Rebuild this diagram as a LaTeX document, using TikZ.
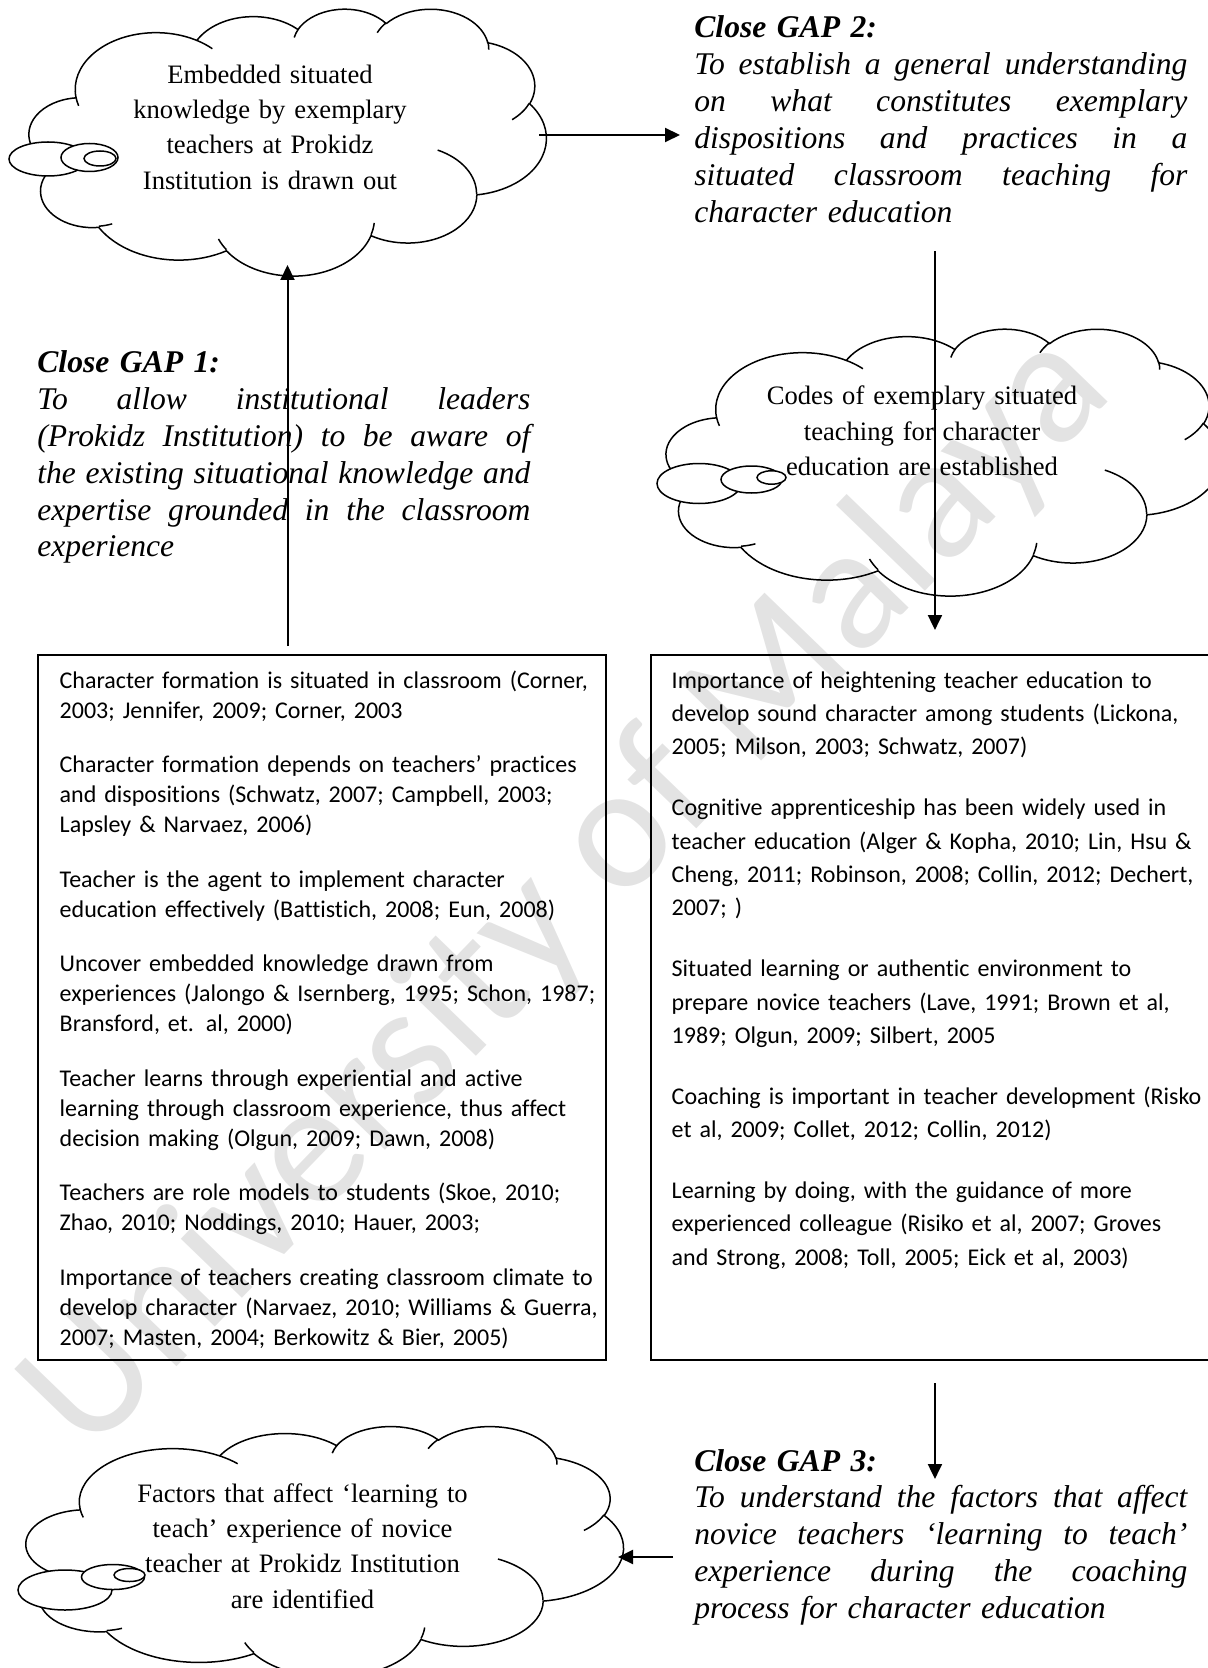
\documentclass[tikz,border=0pt]{standalone}
\usepackage{fontspec}
\setmainfont{Liberation Serif}
\newfontfamily\calibrifont[Ligatures=NoCommon]{Carlito}
\usetikzlibrary{arrows.meta}

% ---------------------------------------------------------------
% Office-style cloud outline built from elliptical arcs.
% Each arc: radii and visual start / sweep angle (degrees); the
% visual angles are turned into the parametric angles TikZ uses.
% Path space is 432 x 432 units, scaled to the cloud's box.
% ---------------------------------------------------------------
\newcommand\addarcto[5]{%
  \pgfmathsetmacro\cldA{atan2(#2*sin(#4),#3*cos(#4))}%
  \pgfmathsetmacro\cldB{atan2(#2*sin(#4+#5),#3*cos(#4+#5))}%
  \pgfmathsetmacro\cldD{\cldB-\cldA+360*(\cldB<\cldA)}%
  \xdef#1{#1 arc[x radius=#2,y radius=#3,start angle=\cldA,delta angle=\cldD]}}
\newcommand\addinner[6]{%
  \xdef\cldinner{\cldinner (#1,#2)}%
  \addarcto\cldinner{#3}{#4}{#5}{#6}}

% outer rim
\gdef\cldouter{(39,143.7)}
\addarcto\cldouter{67.53}{91.90}{-190.4875}{123.7805}
\addarcto\cldouter{53.33}{72.67}{-144.1024}{89.9452}
\addarcto\cldouter{43.65}{59.45}{-145.8079}{99.7230}
\addarcto\cldouter{48.57}{65.95}{-130.9861}{117.2417}
\addarcto\cldouter{53.33}{72.73}{-78.7089}{109.0269}
\addarcto\cldouter{67.75}{92.20}{-46.2673}{130.2690}
\addarcto\cldouter{57.85}{78.67}{0.6250}{114.0333}
\addarcto\cldouter{67.52}{92.15}{22.4516}{115.1726}
\addarcto\cldouter{77.20}{105.43}{66.2426}{75.7110}
\addarcto\cldouter{43.60}{59.18}{-274.9421}{146.7356}
\addarcto\cldouter{43.45}{59.45}{-246.8285}{152.5301}
\xdef\cldouter{\cldouter -- cycle}

% inner creases
\gdef\cldinner{}
\addinner{46.93}{261.77}{43.45}{59.45}{86.7420}{26.4295}
\addinner{69.28}{348.99}{43.60}{59.18}{73.6105}{11.4475}
\addinner{164.78}{390.90}{67.52}{92.15}{137.6242}{14.0811}
\addinner{288.27}{347.51}{67.52}{92.15}{6.4533}{15.9984}
\addinner{341.29}{229.54}{57.85}{78.67}{-70.2924}{70.9174}
\addinner{417.98}{153.54}{53.33}{72.73}{30.3180}{27.7515}
\addinner{383.24}{54.26}{48.57}{65.95}{-13.7443}{14.8589}
\addinner{290.78}{39.52}{48.57}{65.95}{-149.1815}{18.1954}
\addinner{221.41}{47.20}{43.65}{59.45}{-163.4943}{17.6864}
\addinner{140.00}{51.92}{67.53}{91.90}{-66.7070}{12.3194}
\addinner{41.27}{157.89}{67.53}{91.90}{157.6544}{11.8582}

% cloud whose visible outline spans (left, top, width, height), pixel units
\newcommand\drawcloud[4]{%
  \pgfmathsetmacro\cldw{#3/0.973}%
  \pgfmathsetmacro\cldh{#4/0.937}%
  \pgfmathsetmacro\cldx{#1-0.013*\cldw}%
  \pgfmathsetmacro\cldy{#2-0.025*\cldh}%
  \pgfmathsetmacro\cldsx{\cldw*0.5/432}%
  \pgfmathsetmacro\cldsy{-\cldh*0.5/432}%
  \begin{scope}[shift={(\cldx,\cldy)},x=\cldsx pt,y=\cldsy pt]
    \draw[cloudline] \cldouter;
    \draw[cloudline] \cldinner;
  \end{scope}}

% one fully justified line of a gap statement (words split by \hfill)
\newlength\gapwidth
\setlength\gapwidth{246.5pt}
\newcommand\jline[1]{\leavevmode\hbox to \gapwidth{#1}}

\begin{document}
\begin{tikzpicture}[
  x=0.5pt, y=-0.5pt,
  cloudline/.style={line width=0.75pt, line join=round},
  tail/.style={line width=0.75pt, fill=white},
  cloudbox/.style={inner sep=0pt, outer sep=0pt, anchor=north west},
  cloudtext/.style={anchor=base, inner sep=0pt, text width=250pt, align=center,
    font=\fontsize{13.3}{17.6}\selectfont},
  gaptext/.style={anchor=base west, inner sep=0pt, text width=\gapwidth, align=left,
    font=\fontsize{15.8}{18.4}\selectfont\itshape},
  frame/.style={draw, line width=1pt, inner sep=0pt, outer sep=0pt, anchor=north west},
  boxtext/.style={anchor=base west, inner sep=0pt, text width=275pt, align=left,
    font=\calibrifont\fontsize{12}{15}\selectfont},
  boxtextwide/.style={boxtext, font=\calibrifont\fontsize{12}{16.7}\selectfont},
  arr/.style={line width=1pt, -{Triangle[length=7.5pt,width=7pt]}},
  watermark/.style={inner sep=0pt, rotate=46, text=black!11,
    font=\calibrifont\fontsize{89}{89}\selectfont}
]
\useasboundingbox (0,0) rectangle (1207,1668);

% faint diagonal watermark behind everything
\node[watermark] (wm) at (568,893) {University of Malaya};

% ---------- top-left cloud ----------
\drawcloud{36}{15}{503}{250}
\draw[tail] (48,159) ellipse[x radius=39, y radius=17];
\draw[tail] (89.5,157.5) ellipse[x radius=28.5, y radius=14];
\draw[tail] (100,158.5) ellipse[x radius=16, y radius=7.5];
\node[cloudbox, minimum width=251.5pt, minimum height=125pt] (cloudA) at (36,15) {};
\node[cloudtext] (cloudAtext) at (270,83.5)
  {Embedded situated\\knowledge by exemplary\\teachers at Prokidz\\Institution is drawn out};

% ---------- right cloud ----------
\drawcloud{673.6}{335}{540}{250}
\draw[tail] (699,483.5) ellipse[x radius=42, y radius=20];
\draw[tail] (751.5,479.5) ellipse[x radius=30.5, y radius=13.5];
\draw[tail] (771.5,477.5) ellipse[x radius=14.5, y radius=6.7];
\node[cloudbox, minimum width=270pt, minimum height=125pt] (cloudB) at (673.6,335) {};
\node[cloudtext] (cloudBtext) at (922,405)
  {Codes of exemplary situated\\teaching for character\\education are established};

% ---------- bottom-left cloud ----------
\drawcloud{34}{1432}{581}{235}
\draw[tail] (65,1590) ellipse[x radius=47, y radius=20];
\draw[tail] (113,1577) ellipse[x radius=31.5, y radius=12.5];
\draw[tail] (129.5,1575) ellipse[x radius=15.5, y radius=6.5];
\node[cloudbox, minimum width=290.5pt, minimum height=117.5pt] (cloudC) at (34,1432) {};
\node[cloudtext] (cloudCtext) at (302.5,1502.5)
  {Factors that affect ‘learning to\\teach’ experience of novice\\teacher at Prokidz Institution\\are identified};

% ---------- gap statements ----------
\node[gaptext] (gap1) at (37,373) {\textbf{Close GAP 1:}\\
  \jline{To\hfill allow\hfill institutional\hfill leaders}\\
  \jline{(Prokidz\hfill Institution)\hfill to\hfill be\hfill aware\hfill of}\\
  \jline{the\hfill existing\hfill situational\hfill knowledge\hfill and}\\
  \jline{expertise\hfill grounded\hfill in\hfill the\hfill classroom}\\
  experience};

\node[gaptext, font=\fontsize{15.8}{18.5}\selectfont\itshape] (gap2) at (694,37.5) {\textbf{Close GAP 2:}\\
  \jline{To\hfill establish\hfill a\hfill general\hfill understanding}\\
  \jline{on\hfill what\hfill constitutes\hfill exemplary}\\
  \jline{dispositions\hfill and\hfill practices\hfill in\hfill a}\\
  \jline{situated\hfill classroom\hfill teaching\hfill for}\\
  character education};

\node[gaptext] (gap3) at (694,1471) {\textbf{Close GAP 3:}\\
  \jline{To\hfill understand\hfill the\hfill factors\hfill that\hfill affect}\\
  \jline{novice\hfill teachers\hfill ‘learning\hfill to\hfill teach’}\\
  \jline{experience\hfill during\hfill the\hfill coaching}\\
  process for character education};

% ---------- literature boxes ----------
\node[frame, minimum width=284pt, minimum height=352.5pt] (boxL) at (37.5,655) {};
\node[boxtext] (boxLtext) at (59.3,688) {%
  Character formation is situated in classroom (Corner,\\
  2003; Jennifer, 2009; Corner, 2003\\[12.25pt]
  Character formation depends on teachers’ practices\\
  and dispositions (Schwatz, 2007; Campbell, 2003;\\
  Lapsley \& Narvaez, 2006)\\[12.25pt]
  Teacher is the agent to implement character\\
  education effectively (Battistich, 2008; Eun, 2008)\\[12.25pt]
  Uncover embedded knowledge drawn from\\
  experiences (Jalongo \& Isernberg, 1995; Schon, 1987;\\
  Bransford, et. al, 2000)\\[12.25pt]
  Teacher learns through experiential and active\\
  learning through classroom experience, thus affect\\
  decision making (Olgun, 2009; Dawn, 2008)\\[12.25pt]
  Teachers are role models to students (Skoe, 2010;\\
  Zhao, 2010; Noddings, 2010; Hauer, 2003;\\[12.25pt]
  Importance of teachers creating classroom climate to\\
  develop character (Narvaez, 2010; Williams \& Guerra,\\
  2007; Masten, 2004; Berkowitz \& Bier, 2005)};

\node[frame, minimum width=279.25pt, minimum height=352.5pt] (boxR) at (650.5,655) {};
\node[boxtextwide] (boxRtext) at (671.3,688) {%
  Importance of heightening teacher education to\\
  develop sound character among students (Lickona,\\
  2005; Milson, 2003; Schwatz, 2007)\\[13.7pt]
  Cognitive apprenticeship has been widely used in\\
  teacher education (Alger \& Kopha, 2010; Lin, Hsu \&\\
  Cheng, 2011; Robinson, 2008; Collin, 2012; Dechert,\\
  2007; )\\[13.7pt]
  Situated learning or authentic environment to\\
  prepare novice teachers (Lave, 1991; Brown et al,\\
  1989; Olgun, 2009; Silbert, 2005\\[13.7pt]
  Coaching is important in teacher development (Risko\\
  et al, 2009; Collet, 2012; Collin, 2012)\\[13.7pt]
  Learning by doing, with the guidance of more\\
  experienced colleague (Risiko et al, 2007; Groves\\
  and Strong, 2008; Toll, 2005; Eick et al, 2003)};

% ---------- connectors ----------
% the right-hand column arrows run slightly right of the box centre
\coordinate (boxRin) at ([xshift=2.6pt]boxR.north);
\coordinate (boxRout) at ([xshift=2.6pt]boxR.south);
\path (boxRout |- gap3.base) coordinate (gap3mark);
\path (boxRin |- gap2.south) coordinate (gap2mark);

\draw[arr, shorten <=4.5pt] (cloudA.south |- boxL.north) -- (cloudA.south);
\draw[arr, shorten >=7pt] ([yshift=2.5pt]cloudA.east) -- ([yshift=2.5pt]cloudA.east -| gap2.west);
\draw[arr, shorten <=14pt, shorten >=12.5pt] (gap2mark) -- (boxRin);
\draw[arr, shorten <=11.5pt] (boxRout) -- ([yshift=-4pt]gap3mark);
\draw[arr, shorten <=10.5pt, shorten >=1.5pt]
  ([yshift=-3.75pt]cloudC.east -| gap3.west) -- ([yshift=-3.75pt]cloudC.east);
\end{tikzpicture}
\end{document}
